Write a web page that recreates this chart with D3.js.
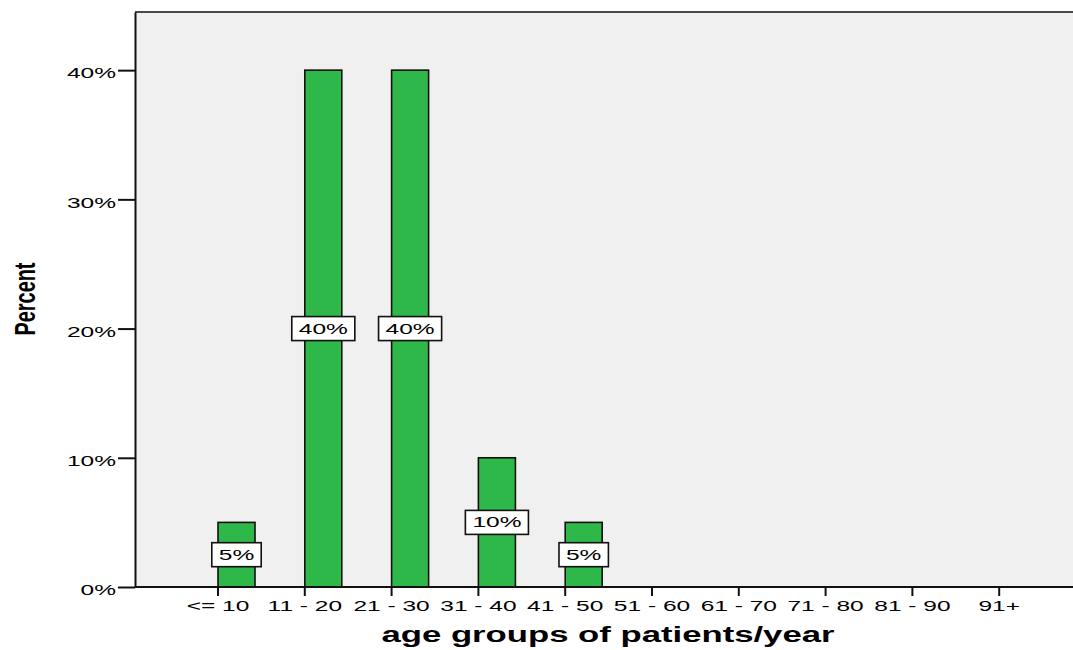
<!DOCTYPE html>
<html>
<head>
<meta charset="utf-8">
<script src="https://cdn.jsdelivr.net/npm/d3@7"></script>
<style>
  html, body { margin: 0; padding: 0; background: #ffffff; }
  svg { display: block; }
  text { font-family: "Liberation Sans", Arial, sans-serif; fill: #000; }
</style>
</head>
<body>
<svg id="chart" width="1073" height="650"></svg>
<script>
// Age-group distribution (percent of patients)
const categories = ["<= 10", "11 - 20", "21 - 30", "31 - 40", "41 - 50",
                    "51 - 60", "61 - 70", "71 - 80", "81 - 90", "91+"];
const percents   = [5, 40, 40, 10, 5, 0, 0, 0, 0, 0];
const yTicks     = [0, 10, 20, 30, 40];
const xTitle     = "age groups of patients/year";
const yTitle     = "Percent";

const W = 1073, H = 650;
const plot = { left: 135, right: 1073, top: 12, bottom: 587 };
const STRETCH = 1.75;   // wide lettering used for all horizontal labels

const svg = d3.select("#chart");

// widen a text node horizontally while keeping its anchor
function widen(sel, k) {
  sel.each(function () {
    const len = this.getComputedTextLength();
    d3.select(this).attr("textLength", len * k).attr("lengthAdjust", "spacingAndGlyphs");
  });
}

const x = d3.scaleBand()
  .domain(categories)
  .range([218, 1036.2])
  .paddingInner(0.5737)
  .paddingOuter(0);

const y = d3.scaleLinear()
  .domain([0, 44.5])
  .range([plot.bottom, plot.top]);

// plot background
svg.append("rect")
  .attr("x", plot.left).attr("y", plot.top)
  .attr("width", plot.right - plot.left).attr("height", plot.bottom - plot.top)
  .attr("fill", "#f0f0f0");

// top frame line
svg.append("line")
  .attr("x1", plot.left).attr("x2", plot.right)
  .attr("y1", plot.top).attr("y2", plot.top)
  .attr("stroke", "#4a4a4a").attr("stroke-width", 2);

// bars
svg.append("g").selectAll("rect")
  .data(categories.map((c, i) => ({ c, v: percents[i] })))
  .join("rect")
  .attr("x", d => x(d.c))
  .attr("y", d => y(d.v))
  .attr("width", x.bandwidth())
  .attr("height", d => y(0) - y(d.v))
  .attr("fill", "#2fb84a")
  .attr("stroke", "#111")
  .attr("stroke-width", 1.6);

// y axis
const Y_TICK = 17, Y_PAD = 2;
const yAxis = svg.append("g")
  .attr("transform", `translate(${plot.left},0)`)
  .call(d3.axisLeft(y).tickValues(yTicks).tickFormat(d => d + "%")
        .tickSize(Y_TICK).tickSizeOuter(0).tickPadding(Y_PAD));
yAxis.select(".domain").attr("stroke", "#111").attr("stroke-width", 2);
yAxis.selectAll(".tick line").attr("stroke", "#111").attr("stroke-width", 2);
yAxis.selectAll(".tick text")
  .attr("font-size", 14).attr("dy", "0.55em")
  .style("font-family", "Liberation Sans, Arial, sans-serif")
  .attr("fill", "#111")
  .each(function () {
    // right-align the widened label against the tick
    const w = this.getComputedTextLength() * STRETCH;
    d3.select(this)
      .attr("text-anchor", "start")
      .attr("x", -(Y_TICK + Y_PAD) - w)
      .attr("textLength", w)
      .attr("lengthAdjust", "spacingAndGlyphs");
  });

// x axis: ticks sit at the left edge of each bar
const xAxis = svg.append("g")
  .attr("transform", `translate(${-x.bandwidth() / 2},${plot.bottom})`)
  .call(d3.axisBottom(x).tickSize(9).tickSizeOuter(0).tickPadding(5));
xAxis.select(".domain").remove();
xAxis.selectAll(".tick line").attr("stroke", "#111").attr("stroke-width", 2);
xAxis.selectAll(".tick text")
  .attr("font-size", 14)
  .style("font-family", "Liberation Sans, Arial, sans-serif")
  .attr("fill", "#111")
  .call(widen, STRETCH);

// baseline
svg.append("line")
  .attr("x1", plot.left).attr("x2", plot.right)
  .attr("y1", y(0)).attr("y2", y(0))
  .attr("stroke", "#111").attr("stroke-width", 2);

// value labels in boxes at mid-height of each non-empty bar
const labels = svg.append("g").selectAll("g")
  .data(categories.map((c, i) => ({ c, v: percents[i] })).filter(d => d.v > 0))
  .join("g")
  .attr("transform", d => `translate(${x(d.c) + x.bandwidth() / 2},${y(d.v / 2)})`);

labels.append("rect").attr("class", "box");
labels.append("text")
  .attr("text-anchor", "middle")
  .attr("dy", "0.36em")
  .attr("font-size", 14)
  .text(d => d.v + "%")
  .call(widen, STRETCH);
labels.each(function () {
  const g = d3.select(this);
  const w = +g.select("text").attr("textLength") + 14;
  g.select("rect.box")
    .attr("x", -w / 2).attr("y", -12)
    .attr("width", w).attr("height", 24)
    .attr("fill", "#fff").attr("stroke", "#111").attr("stroke-width", 1.6);
});

// axis titles
svg.append("text")
  .attr("x", 608).attr("y", 642)
  .attr("text-anchor", "middle")
  .attr("font-size", 22).attr("font-weight", "bold")
  .text(xTitle)
  .attr("textLength", 453).attr("lengthAdjust", "spacingAndGlyphs");

svg.append("text")
  .attr("transform", "translate(35,299) rotate(-90)")
  .attr("text-anchor", "middle")
  .attr("font-size", 30).attr("font-weight", "bold")
  .text(yTitle)
  .attr("textLength", 73).attr("lengthAdjust", "spacingAndGlyphs");
</script>
</body>
</html>
